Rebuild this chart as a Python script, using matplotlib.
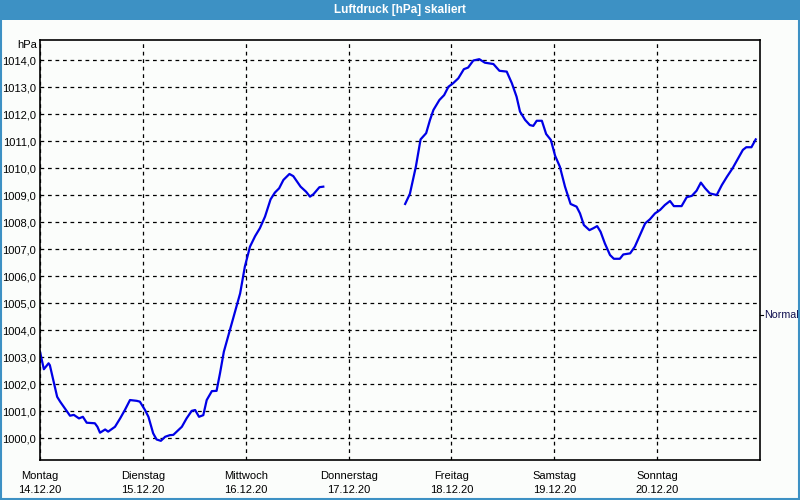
import numpy as np
import matplotlib
matplotlib.use("Agg")
import matplotlib.pyplot as plt
from matplotlib.ticker import FuncFormatter, MultipleLocator

plt.rcParams['font.family'] = ['Liberation Sans', 'DejaVu Sans']

# Stunden seit Montag 14.12.20 00:00, NaN = Messluecke
stunden = [0, 0.9, 2.0, 2.3, 3.1, 4.0, 4.7, 5.8, 7.0, 7.9, 9.1, 10.0, 10.9, 12.8, 13.4,
           14.0, 15.2, 15.9, 17.5, 18.7, 19.8, 21.0, 22.6, 23.3, 24.5, 25.3, 26.4, 27.2,
           28.2, 29.2, 30.3, 31.1, 33.1, 34.2, 35.4, 36.2, 37.1, 38.1, 38.9, 40.1, 41.2,
           42.0, 42.9, 44.3, 46.7, 47.8, 49.0, 50.2, 51.3, 52.5, 53.8, 54.8, 55.8, 56.8,
           58.2, 59.1, 60.8, 62.1, 63.0, 63.8, 65.2, 66.1,
           75.0,
           85.2, 86.3, 87.7, 88.8, 90.1, 91.0, 91.8, 93.2, 94.3, 95.3, 96.4, 97.6, 98.9,
           99.9, 101.1, 102.5, 103.8, 105.8, 107.2, 108.9, 110.1, 111.2, 112.0, 113.2,
           114.3, 115.1, 115.9, 117.1, 118.1, 119.2, 120.2, 121.3, 122.5, 123.8, 125.2,
           126.0, 126.9, 128.2, 129.1, 130.0, 130.8, 131.8, 133.0, 133.9, 135.3, 136.1,
           137.7, 138.8, 140.0, 141.2, 142.3, 143.5, 144.7, 145.8, 147.0, 147.9, 149.7,
           150.9, 152.1, 153.2, 154.2, 155.2, 156.3, 157.9, 159.1, 160.3, 161.6, 162.9,
           164.0, 164.8, 166.0, 167.0]
druck = [1003.21, 1002.56, 1002.78, 1002.71, 1002.16, 1001.54, 1001.36, 1001.11, 1000.84,
         1000.87, 1000.74, 1000.80, 1000.58, 1000.56, 1000.43, 1000.21, 1000.33, 1000.25,
         1000.43, 1000.74, 1001.05, 1001.42, 1001.39, 1001.36, 1001.05, 1000.80, 1000.19,
         999.96, 999.91, 1000.06, 1000.12, 1000.13, 1000.43, 1000.74, 1001.02, 1001.05,
         1000.80, 1000.86, 1001.42, 1001.75, 1001.76, 1002.41, 1003.21, 1004.01, 1005.37,
         1006.36, 1007.10, 1007.49, 1007.78, 1008.21, 1008.85, 1009.10, 1009.26, 1009.57,
         1009.79, 1009.71, 1009.32, 1009.13, 1008.95, 1009.04, 1009.30, 1009.32,
         np.nan,
         1008.68, 1009.05, 1010.06, 1011.07, 1011.30, 1011.79, 1012.16, 1012.53, 1012.71,
         1013.02, 1013.15, 1013.33, 1013.67, 1013.73, 1013.99, 1014.04, 1013.91, 1013.86,
         1013.61, 1013.58, 1013.15, 1012.65, 1012.10, 1011.79, 1011.60, 1011.57, 1011.76,
         1011.76, 1011.27, 1011.05, 1010.46, 1010.06, 1009.32, 1008.68, 1008.58, 1008.33,
         1007.90, 1007.71, 1007.78, 1007.86, 1007.65, 1007.22, 1006.79, 1006.65, 1006.65,
         1006.81, 1006.85, 1007.10, 1007.53, 1007.96, 1008.11, 1008.33, 1008.46, 1008.64,
         1008.79, 1008.60, 1008.60, 1008.93, 1008.98, 1009.17, 1009.47, 1009.26, 1009.07,
         1009.01, 1009.38, 1009.69, 1010.00, 1010.37, 1010.68, 1010.78, 1010.78, 1011.07]

tage = ["Montag", "Dienstag", "Mittwoch", "Donnerstag", "Freitag", "Samstag", "Sonntag"]
daten = ["14.12.20", "15.12.20", "16.12.20", "17.12.20", "18.12.20", "19.12.20", "20.12.20"]
normal = 1004.57

fig = plt.figure(figsize=(8, 5), dpi=100)
fig.patch.set_facecolor("#fbfdfb")

# Titelleiste + Rahmen
fig.patches.append(plt.Rectangle((0, 0.96), 1, 0.04, transform=fig.transFigure,
                                 facecolor="#3d91c4", edgecolor="none"))
fig.patches.append(plt.Rectangle((0.001, 0.002), 0.998, 0.996, transform=fig.transFigure,
                                 facecolor="none", edgecolor="#3d91c4", lw=1.5))
fig.text(0.5, 0.979, "Luftdruck [hPa] skaliert", color="white", fontsize=8.5,
         fontweight="bold", ha="center", va="center")

ax = fig.add_axes([0.05, 0.08, 0.9, 0.84])
ax.set_facecolor("#fbfdfb")
ax.plot(np.array(stunden) / 24.0, druck, color="#0000e6", lw=1.6)

ax.set_xlim(0, 7)
ax.set_ylim(999.2, 1014.75)
ax.yaxis.set_major_locator(MultipleLocator(1))
ax.yaxis.set_major_formatter(FuncFormatter(lambda v, p: f"{v:.1f}".replace(".", ",")))
ax.set_xticks(range(7))
ax.set_xticklabels([f"{t}\n{d}" for t, d in zip(tage, daten)], linespacing=1.45)
ax.tick_params(length=0, labelsize=8, colors="black")
ax.tick_params(axis="x", pad=8)
ax.tick_params(axis="y", pad=3)
ax.grid(True, color="black", linestyle=(0, (3, 3)), lw=0.9)
for s in ax.spines.values():
    s.set_color("black")
    s.set_linewidth(1.2)

ax.text(-0.004, 1.0, "hPa", transform=ax.transAxes, ha="right", va="top", fontsize=8)
ax.annotate("Normal", xy=(1.0, normal), xycoords=("axes fraction", "data"),
            xytext=(3, 0), textcoords="offset points", ha="left", va="center",
            fontsize=7.7, color="#101050")
ax.plot([1.0, 1.004], [normal, normal], transform=ax.get_yaxis_transform(),
        color="black", lw=0.8, clip_on=False)

fig.savefig("out.png", dpi=100, facecolor=fig.get_facecolor())
